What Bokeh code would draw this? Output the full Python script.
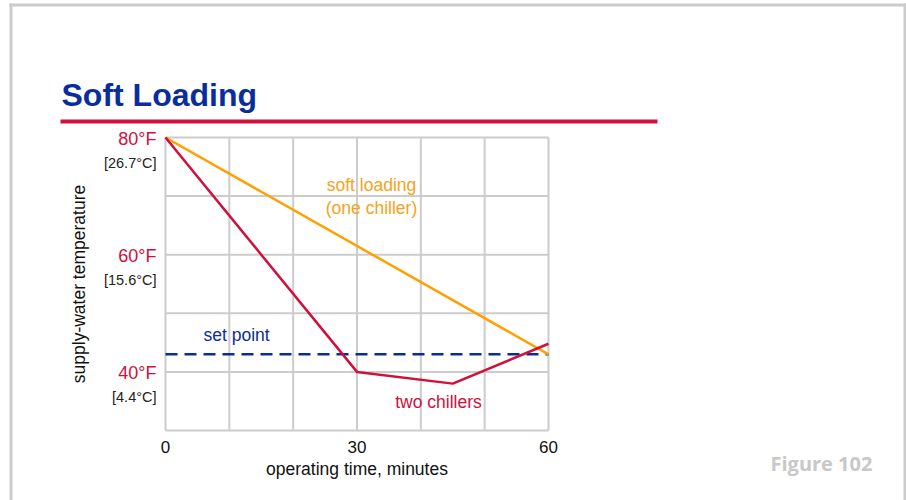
import math
from bokeh.plotting import figure
from bokeh.models import Range1d
from bokeh.core.properties import value
from bokeh.embed import file_html
from bokeh.resources import INLINE

# ---- data ----
two_minutes = [0, 30, 45, 60]
two_temp_f = [80, 40, 38, 44.8]
soft_minutes = [0, 60]
soft_temp_f = [80, 43]
set_point_minutes = [0, 60]
set_point_f = [43, 43]
temp_ticks_f = [40, 60, 80]
temp_labels_f = ["40°F", "60°F", "80°F"]
temp_labels_c = ["[4.4°C]", "[15.6°C]", "[26.7°C]"]
time_ticks = [0, 30, 60]
time_labels = ["0", "30", "60"]
time_grid = [0, 10, 20, 30, 40, 50, 60]
temp_grid = [30, 40, 50, 60, 70, 80]

# ---- layout: where the data box sits on the 906x500 page ----
W, H = 906, 500
FL, FR, FT, FB = 165, 548, 137, 430
X0, X1 = time_grid[0], time_grid[-1]
Y0, Y1 = temp_grid[0], temp_grid[-1]


def dx(px):
    return X0 + (px - FL) / (FR - FL) * (X1 - X0)


def dy(py):
    return Y0 + (FB - py) / (FB - FT) * (Y1 - Y0)


FONT = "Liberation Sans"
RED = "#d0103a"
ORANGE = "#ffa000"
ORANGE_TXT = "#f5a31a"
BLUE = "#0a2d9c"
GRID = "#cccccc"
INK = "#111111"

p = figure(width=W, height=H,
           x_range=Range1d(dx(0), dx(W)), y_range=Range1d(dy(H), dy(0)),
           x_axis_type=None, y_axis_type=None,
           output_backend="svg", toolbar_location=None, min_border=0)
p.outline_line_color = None
p.background_fill_color = "white"
p.border_fill_color = "white"

# page frame
p.quad(left=[dx(9)], right=[dx(12)], top=[dy(3)], bottom=[dy(H)], fill_color=GRID, line_color=None)
p.quad(left=[dx(9)], right=[dx(906)], top=[dy(3)], bottom=[dy(6)], fill_color=GRID, line_color=None)
p.quad(left=[dx(903)], right=[dx(906)], top=[dy(3)], bottom=[dy(H)], fill_color=GRID, line_color=None)

# title and rule
p.text(x=[dx(61)], y=[dy(94)], text=["Soft Loading"], text_font=value(FONT),
       text_font_size="32px", text_font_style="bold", text_color=BLUE,
       text_align="left", text_baseline="middle")
p.quad(left=[dx(60)], right=[dx(657)], top=[dy(119)], bottom=[dy(123)],
       fill_color="#d4103a", line_color=None)

# grid (chart box)
p.segment(x0=time_grid, y0=[Y0] * len(time_grid), x1=time_grid, y1=[Y1] * len(time_grid),
          line_color=GRID, line_width=2)
p.segment(x0=[X0] * len(temp_grid), y0=temp_grid, x1=[X1] * len(temp_grid), y1=temp_grid,
          line_color=GRID, line_width=2)

# tick labels
p.text(x=time_ticks, y=[dy(446)] * len(time_ticks), text=time_labels,
       text_font=value(FONT), text_font_size="17px", text_color=INK,
       text_align="center", text_baseline="middle")
p.text(x=[dx(156)] * len(temp_ticks_f), y=[t + (dy(FT + 1) - dy(FT)) for t in temp_ticks_f],
       text=temp_labels_f, text_font=value(FONT), text_font_size="18px", text_color=RED,
       text_align="right", text_baseline="middle")
p.text(x=[dx(156)] * len(temp_ticks_f), y=[t + (dy(FT + 25) - dy(FT)) for t in temp_ticks_f],
       text=temp_labels_c, text_font=value(FONT), text_font_size="14.5px", text_color="#222222",
       text_align="right", text_baseline="middle")

# axis titles
p.text(x=[(X0 + X1) / 2], y=[dy(468.5)], text=["operating time, minutes"],
       text_font=value(FONT), text_font_size="17.5px", text_color=INK,
       text_align="center", text_baseline="middle")
p.text(x=[dx(78)], y=[(Y0 + Y1) / 2], text=["supply-water temperature"], angle=math.pi / 2,
       text_font=value(FONT), text_font_size="17.5px", text_color=INK,
       text_align="center", text_baseline="middle")

# series
p.line(set_point_minutes, set_point_f, line_color=BLUE, line_width=2.6, line_dash="12 7")
p.line(soft_minutes, soft_temp_f, line_color=ORANGE, line_width=2.5)
p.line(two_minutes, two_temp_f, line_color=RED, line_width=2.5)

# in-chart annotations
p.text(x=[dx(371)] * 2, y=[dy(184.5), dy(207.5)], text=["soft loading", "(one chiller)"],
       text_font=value(FONT), text_font_size="17.5px", text_color=ORANGE_TXT,
       text_align="center", text_baseline="middle")
p.text(x=[dx(203)], y=[dy(334)], text=["set point"],
       text_font=value(FONT), text_font_size="17.5px", text_color=BLUE,
       text_align="left", text_baseline="middle")
p.text(x=[dx(438)], y=[dy(401.5)], text=["two chillers"],
       text_font=value(FONT), text_font_size="17.5px", text_color=RED,
       text_align="center", text_baseline="middle")

# figure number
p.text(x=[dx(770)], y=[dy(462.5)], text=["Figure 102"],
       text_font=value("Open Sans"), text_font_size="20px", text_font_style="bold",
       text_color="#c8c8c8", text_align="left", text_baseline="middle")

open("out.html", "w").write(file_html(p, INLINE))
